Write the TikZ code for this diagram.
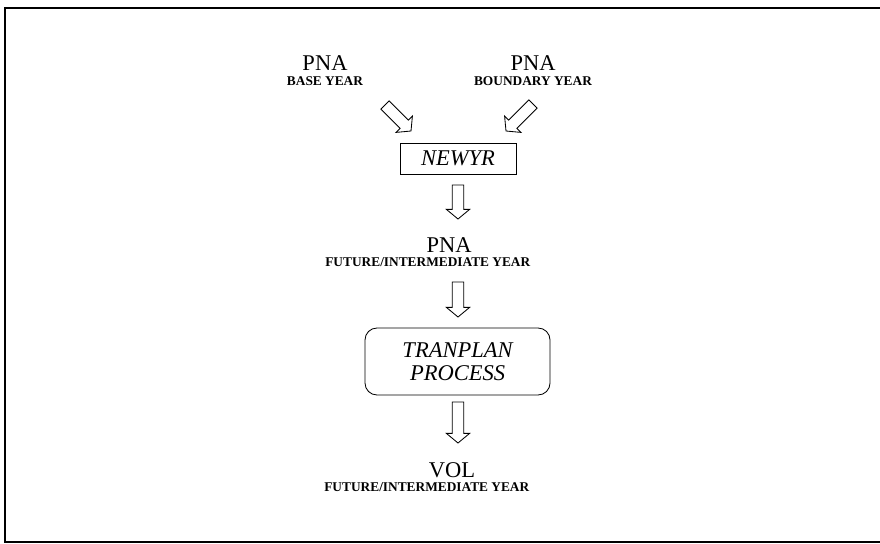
\documentclass[tikz,border=0pt]{standalone}
\usepackage{fontspec}
\setmainfont{Liberation Serif}
\usepackage{tikz}
\usetikzlibrary{calc}
\usetikzlibrary{positioning}

\begin{document}
\begin{tikzpicture}[x=0.025cm, y=-0.025cm]

\useasboundingbox (0,0) rectangle (880,544);

\def\kopf{0.24cm}
\def\schaft{0.145cm}
\def\breite{0.29cm}
% Hohlpfeil von #1 nach #2
\def\hohlpfeil#1#2{%
  \coordinate (#1#2h) at ($(#2)!\kopf!(#1)$);
  \draw[pfeil] ($(#1)!\schaft!90:(#2)$) -- ($(#1#2h)!\schaft!90:(#2)$) -- ($(#1#2h)!\breite!90:(#2)$) -- (#2)
    -- ($(#1#2h)!\breite!-90:(#2)$) -- ($(#1#2h)!\schaft!-90:(#2)$) -- ($(#1)!\schaft!-90:(#2)$) -- cycle;}

	\tikzstyle{gross}=[inner sep=1pt, font=\fontsize{16}{18}\selectfont]
	\tikzstyle{klein}=[inner sep=1pt, font=\fontsize{9.5}{11}\selectfont\bfseries]
	\tikzstyle{kasten}=[draw, line width=0.6pt, font=\fontsize{16}{16.5}\selectfont\itshape, align=center]
	\tikzset{pfeil/.style={line width=0.6pt, line join=miter}}

% Rahmen
\draw[line width=1.5pt] (880,8) -- (5,8) -- (5,542) -- (880,542);

% Eingaben
\node[gross] (pna1) at (325,63) {PNA};
\node[klein, below=2pt of pna1] (basis) {BASE YEAR};
\node[gross] (pna2) at (533,63) {PNA};
\node[klein, below=2pt of pna2] (grenze) {BOUNDARY YEAR};

% Kaesten
\node[kasten, minimum width=2.9cm, minimum height=0.775cm] (newyr) at (458,158.5) {NEWYR};
\node[gross] (pna3) at (449,245) {PNA};
\node[klein, anchor=east] (zwischen1) at (532,262.5) {FUTURE/INTERMEDIATE YEAR};
\node[kasten, rounded corners=0.3cm, minimum width=4.625cm, minimum height=1.675cm] (tranplan) at (457.5,361.5) {TRANPLAN\\PROCESS};
\node[gross] (vol) at (452,470) {VOL};
\node[klein, anchor=east] (zwischen2) at (531,487.5) {FUTURE/INTERMEDIATE YEAR};

% Pfeile
\coordinate (s1) at (385,105);
\coordinate (z1) at (411,131);
\coordinate (s2) at (533,104);
\coordinate (z2) at (506,131);
\coordinate (s3) at (458,185);
\coordinate (z3) at (458,219);
\coordinate (s4) at (458,282);
\coordinate (z4) at (458,317);
\coordinate (s5) at (458,402);
\coordinate (z5) at (458,443);

\hohlpfeil{s1}{z1}
\hohlpfeil{s2}{z2}
\hohlpfeil{s3}{z3}
\hohlpfeil{s4}{z4}
\hohlpfeil{s5}{z5}
\end{tikzpicture}
\end{document}
